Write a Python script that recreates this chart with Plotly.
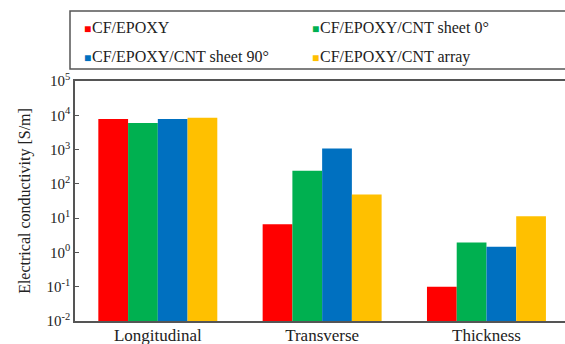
import plotly.graph_objects as go

categories = ["Longitudinal", "Transverse", "Thickness"]
series_names = ["CF/EPOXY", "CF/EPOXY/CNT sheet 0°", "CF/EPOXY/CNT sheet 90°", "CF/EPOXY/CNT array"]
cf_epoxy = [7800, 6.6, 0.10]
cnt_sheet_0 = [6000, 240, 1.96]
cnt_sheet_90 = [7800, 1080, 1.47]
cnt_array = [8500, 49, 11.3]
tick_vals = [1e-2, 1e-1, 1, 10, 100, 1e3, 1e4, 1e5]
tick_text = ["10<sup>-2</sup>", "10<sup>-1</sup>", "10<sup>0</sup>", "10<sup>1</sup>",
             "10<sup>2</sup>", "10<sup>3</sup>", "10<sup>4</sup>", "10<sup>5</sup>"]

colors = ["#FF0000", "#00B050", "#0070C0", "#FFC000"]
values = [cf_epoxy, cnt_sheet_0, cnt_sheet_90, cnt_array]

W, H = 565, 344
L, R, T, B = 75, 0, 81, 23
pw, ph = W - L - R, H - T - B

def px_x(p):
    return (p - L) / pw

def px_y(p):
    return (H - B - p) / ph

fig = go.Figure()
for name, vals, c in zip(series_names, values, colors):
    fig.add_trace(go.Bar(x=list(range(len(categories))), y=vals, name=name,
                         marker=dict(color=c, line=dict(width=0)), showlegend=False))

font_family = "Liberation Serif, Times New Roman, serif"
axis_color = "#555555"
text_color = "#222222"

fig.update_layout(
    width=W, height=H,
    margin=dict(l=L, r=R, t=T, b=B, autoexpand=False),
    paper_bgcolor="white", plot_bgcolor="white",
    barmode="group", bargap=0.276, bargroupgap=0,
    showlegend=False,
    font=dict(family=font_family, size=16, color=text_color),
    xaxis=dict(range=[-0.504, 2.478], tickvals=list(range(len(categories))),
               ticktext=categories, showline=True, linecolor=axis_color, linewidth=1.5,
               mirror=True, ticks="", ticklen=0, showgrid=False, zeroline=False,
               automargin=False, ticklabelstandoff=-2,
               tickfont=dict(size=17, family=font_family, color=text_color)),
    yaxis=dict(type="log", range=[-2, 5], tickvals=tick_vals, ticktext=tick_text,
               showline=True, linecolor=axis_color, linewidth=1.5, mirror=False,
               ticks="inside", ticklen=4, tickcolor=axis_color, showgrid=False,
               zeroline=False, automargin=False,
               tickfont=dict(size=15, family=font_family, color=text_color),
               title=dict(text="Electrical conductivity [S/m]", standoff=12,
                          font=dict(size=16, family=font_family, color=text_color))),
)

# legend frame
fig.add_shape(type="rect", xref="paper", yref="paper",
              x0=px_x(70), x1=px_x(580), y0=px_y(69), y1=px_y(11),
              line=dict(color=axis_color, width=1.5), fillcolor="rgba(0,0,0,0)")

legend_pos = [(82, 28), (310, 28), (82, 57), (310, 57)]
for (lx, ly), name, c in zip(legend_pos, series_names, colors):
    fig.add_annotation(xref="paper", yref="paper", x=px_x(lx), y=px_y(ly),
                       xanchor="left", yanchor="middle", showarrow=False,
                       text=(f'<span style="color:{c};font-size:12px">■</span>'
                             f'<span style="font-size:3px"> </span>{name}'),
                       font=dict(size=16, family=font_family, color=text_color))

fig.write_html(
    "out.html",
    config={"displayModeBar": False},
    post_script=("document.documentElement.style.overflow='hidden';"
                 "document.body.style.overflow='hidden';"
                 "document.body.style.margin='0';"),
)
